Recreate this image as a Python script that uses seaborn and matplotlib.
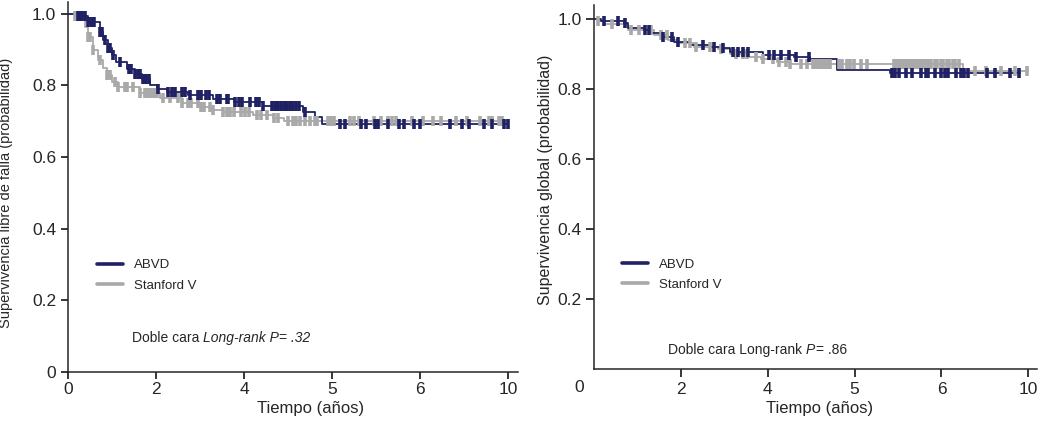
import numpy as np
import pandas as pd
import matplotlib
matplotlib.use("Agg")
import matplotlib.pyplot as plt
from matplotlib.lines import Line2D
import seaborn as sns

# ---------------- data ----------------
groups = ["ABVD", "Stanford V"]
colors = {"ABVD": "#1f2163", "Stanford V": "#a9a9a9"}
x_tick_labels = ["0", "2", "4", "5", "6", "10"]   # equally spaced on the axis
y_ticks = [0, 0.2, 0.4, 0.6, 0.8, 1.0]
y_tick_labels = ["0", "0.2", "0.4", "0.6", "0.8", "1.0"]

# Left panel: supervivencia libre de falla (times in axis-position units)
ffs_abvd_t = [0, 0.10, 0.23, 0.36, 0.40, 0.45, 0.50, 0.55, 0.67, 0.76, 0.84, 0.93,
              1.01, 1.12, 1.36, 1.65, 1.88, 2.21, 2.67, 2.80, 2.88, 5.0]
ffs_abvd_s = [1.0, 0.994, 0.978, 0.95, 0.927, 0.905, 0.885, 0.866, 0.846, 0.832, 0.818, 0.80,
              0.79, 0.782, 0.774, 0.763, 0.754, 0.743, 0.726, 0.712, 0.693, 0.693]
ffs_abvd_cens = [0.11, 0.14, 0.16, 0.19, 0.23, 0.26, 0.28, 0.30, 0.36, 0.39, 0.42, 0.45, 0.48,
                 0.51, 0.59, 0.69, 0.72, 0.76, 0.80, 0.82, 0.85, 0.87, 0.89, 0.92, 1.02, 1.14,
                 1.18, 1.22, 1.30, 1.33, 1.39, 1.48, 1.51, 1.57, 1.60, 1.69, 1.73, 1.80, 1.82,
                 1.90, 1.94, 1.98, 2.07, 2.14, 2.17, 2.22, 2.32, 2.35, 2.37, 2.39, 2.42, 2.45,
                 2.47, 2.49, 2.52, 2.54, 2.56, 2.59, 2.62, 2.69, 3.09, 3.14, 3.33, 3.38, 3.49,
                 3.52, 3.63, 3.76, 3.81, 3.93, 4.00, 4.34, 4.47, 4.55, 4.72, 4.81, 4.95, 5.00]

ffs_stan_t = [0, 0.08, 0.19, 0.23, 0.28, 0.34, 0.40, 0.44, 0.50, 0.57, 0.82, 1.05,
              1.30, 1.50, 1.64, 1.76, 2.10, 2.33, 2.45, 5.0]
ffs_stan_s = [1.0, 0.994, 0.964, 0.936, 0.90, 0.87, 0.849, 0.83, 0.81, 0.796, 0.779, 0.765,
              0.751, 0.74, 0.732, 0.726, 0.718, 0.709, 0.702, 0.702]
ffs_stan_cens = [0.08, 0.11, 0.23, 0.25, 0.28, 0.36, 0.44, 0.48, 0.53, 0.57, 0.65, 0.67, 0.74,
                 0.82, 0.88, 0.91, 0.94, 0.98, 1.01, 1.08, 1.16, 1.25, 1.30, 1.36, 1.40, 1.48,
                 1.51, 1.55, 1.61, 1.65, 1.76, 1.80, 1.84, 1.88, 1.97, 2.01, 2.05, 2.15, 2.19,
                 2.26, 2.34, 2.39, 2.50, 2.55, 2.59, 2.64, 2.69, 2.75, 2.80, 2.83, 2.95, 2.99,
                 3.02, 3.20, 3.25, 3.30, 3.47, 3.55, 3.63, 3.68, 3.73, 3.91, 4.03, 4.14, 4.24,
                 4.41, 4.53, 4.68, 4.78, 4.82, 4.89, 4.93]

# Right panel: supervivencia global
os_abvd_t = [0, 0.08, 0.34, 0.39, 0.57, 0.66, 0.80, 0.92, 1.11, 1.34, 1.49, 1.57,
             1.95, 2.30, 2.49, 2.80, 3.41, 4.90]
os_abvd_s = [1.0, 0.994, 0.989, 0.975, 0.969, 0.96, 0.949, 0.934, 0.926, 0.92, 0.917, 0.906,
             0.897, 0.891, 0.887, 0.854, 0.846, 0.846]
os_abvd_cens = [0.11, 0.28, 0.36, 0.59, 0.63, 0.80, 0.90, 0.97, 1.25, 1.38, 1.49, 1.60, 1.66,
                1.71, 1.77, 2.01, 2.07, 2.15, 2.24, 2.32, 2.48, 3.43, 3.47, 3.51, 3.59, 3.66,
                3.77, 3.82, 3.85, 3.92, 4.00, 4.04, 4.07, 4.17, 4.22, 4.26, 4.31, 4.53, 4.62,
                4.79, 4.89]

os_stan_t = [0, 0.05, 0.11, 0.39, 0.69, 0.85, 0.97, 1.15, 1.43, 1.57, 1.77, 1.92,
             2.11, 2.26, 4.25, 5.0]
os_stan_s = [1.0, 0.994, 0.986, 0.969, 0.954, 0.94, 0.931, 0.92, 0.915, 0.90, 0.891, 0.886,
             0.877, 0.871, 0.852, 0.852]
os_stan_cens = [0.05, 0.21, 0.43, 0.52, 0.66, 0.77, 0.84, 1.05, 1.10, 1.17, 1.34, 1.46, 1.64,
                1.71, 1.76, 1.87, 1.94, 2.06, 2.13, 2.21, 2.26, 2.38, 2.45, 2.52, 2.55, 2.59,
                2.62, 2.66, 2.69, 2.72, 2.82, 2.86, 2.91, 2.95, 2.99, 3.07, 3.14, 3.45, 3.48,
                3.51, 3.54, 3.57, 3.60, 3.64, 3.67, 3.71, 3.74, 3.78, 3.81, 3.85, 3.88, 3.92,
                3.95, 3.99, 4.02, 4.06, 4.09, 4.13, 4.16, 4.20, 4.39, 4.51, 4.68, 4.85, 4.99]

# ---------------- style ----------------
sns.set_style("ticks")
plt.rcParams["font.family"] = ["Liberation Sans", "DejaVu Sans"]
plt.rcParams["axes.linewidth"] = 1.1

fig = plt.figure(figsize=(10.39, 4.25), dpi=100)
axL = fig.add_axes([68 / 1039, 53 / 425, 450 / 1039, 370 / 425])
axR = fig.add_axes([594 / 1039, 56 / 425, 443 / 1039, 364 / 425])


def curve_frame(t_a, s_a, t_b, s_b):
    return pd.concat([
        pd.DataFrame({"t": t_b, "s": s_b, "grupo": "Stanford V"}),
        pd.DataFrame({"t": t_a, "s": s_a, "grupo": "ABVD"}),
    ], ignore_index=True)


def step_value(t, s, c):
    idx = np.searchsorted(np.asarray(t), np.asarray(c), side="right") - 1
    return np.asarray(s)[np.clip(idx, 0, len(s) - 1)]


def draw_panel(ax, t_a, s_a, c_a, t_b, s_b, c_b):
    df = curve_frame(t_a, s_a, t_b, s_b)
    sns.lineplot(data=df, x="t", y="s", hue="grupo", hue_order=["Stanford V", "ABVD"],
                 palette=colors, drawstyle="steps-post", estimator=None, sort=False,
                 linewidth=1.3, legend=False, ax=ax)
    for t, s, c, g in [(t_b, s_b, c_b, "Stanford V"), (t_a, s_a, c_a, "ABVD")]:
        ax.plot(c, step_value(t, s, c), linestyle="none", marker="|",
                markersize=6.5, markeredgewidth=2.6, color=colors[g])
    sns.despine(ax=ax)
    ax.set_xlabel("")
    ax.set_ylabel("")


draw_panel(axL, ffs_abvd_t, ffs_abvd_s, ffs_abvd_cens, ffs_stan_t, ffs_stan_s, ffs_stan_cens)
draw_panel(axR, os_abvd_t, os_abvd_s, os_abvd_cens, os_stan_t, os_stan_s, os_stan_cens)

# left axes
axL.set_xlim(0, 5.11)
axL.set_ylim(0, 1.033)
axL.set_xticks(range(len(x_tick_labels)))
axL.set_xticklabels(x_tick_labels)
axL.set_yticks(y_ticks)
axL.set_yticklabels(y_tick_labels)
axL.tick_params(axis="both", labelsize=12.5, length=5, width=1.1, color="black")
axL.tick_params(axis="y", pad=3.5)
axL.tick_params(axis="x", pad=2.5)
axL.set_ylabel("Supervivencia libre de falla (probabilidad)", fontsize=10.5)
axL.yaxis.set_label_coords(-0.122, 0.484)
axL.set_xlabel("Tiempo (años)", fontsize=12)
axL.xaxis.set_label_coords(0.538, -0.078)

# right axes
axR.set_xlim(0, 5.10)
axR.set_ylim(0, 1.04)
axR.set_xticks(range(1, len(x_tick_labels)))
axR.set_xticklabels(x_tick_labels[1:])
axR.set_yticks(y_ticks[1:])
axR.set_yticklabels(y_tick_labels[1:])
axR.tick_params(axis="both", labelsize=12.5, length=5.5, width=1.1, color="black")
axR.tick_params(axis="y", pad=3.5)
axR.tick_params(axis="x", pad=3.5)
axR.annotate(x_tick_labels[0], xy=(0, 0), xycoords="axes fraction", xytext=(-10.5, -13.5),
             textcoords="offset points", ha="center", va="center", fontsize=12.5)
axR.set_ylabel("Supervivencia global (probabilidad)", fontsize=11.5)
axR.yaxis.set_label_coords(-0.093, 0.519)
axR.set_xlabel("Tiempo (años)", fontsize=12)
axR.xaxis.set_label_coords(0.51, -0.088)

# legends
for ax, xa, ya in [(axL, 0.064, 0.305), (axR, 0.063, 0.304)]:
    handles = [Line2D([], [], color=colors[g], lw=2.6) for g in groups]
    ax.legend(handles, groups, loc="upper left", bbox_to_anchor=(xa, ya), frameon=False,
              fontsize=9.5, handlelength=2.0, handletextpad=0.8, labelspacing=0.6,
              borderpad=0, borderaxespad=0)

# annotations
t1 = axL.text(0.142, 0.092, "Doble cara", transform=axL.transAxes, fontsize=10, va="center")
axL.annotate("Long-rank P= .32", xy=(1, 0), xycoords=t1, xytext=(2.8, 0),
             textcoords="offset points", ha="left", va="bottom", fontsize=10, style="italic")

r1 = axR.text(0.167, 0.052, "Doble cara Long-rank", transform=axR.transAxes, fontsize=10,
              va="center")
r2 = axR.annotate("P", xy=(1, 0), xycoords=r1, xytext=(2.8, 0), textcoords="offset points",
                  ha="left", va="bottom", fontsize=10, style="italic")
axR.annotate("= .86", xy=(1, 0), xycoords=r2, xytext=(0.3, 0), textcoords="offset points",
             ha="left", va="bottom", fontsize=10)

fig.savefig("out.png", dpi=100)
